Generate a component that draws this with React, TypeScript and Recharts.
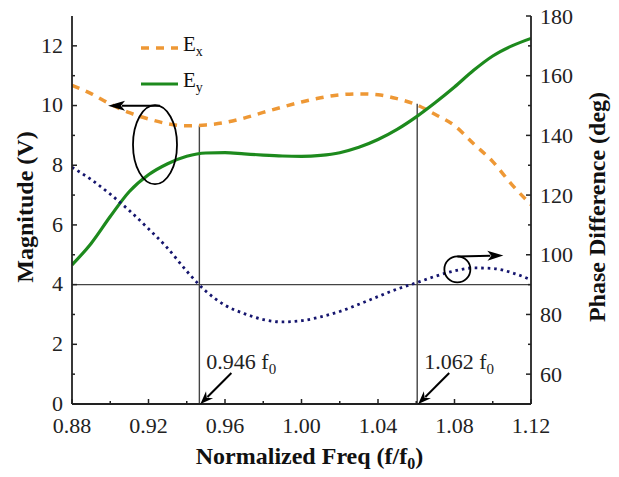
import React from 'react';
import { LineChart, Line, XAxis, YAxis, ReferenceLine, ReferenceDot, Legend } from 'recharts';

const FONT = '"Liberation Serif", "Times New Roman", serif';
const INK = '#222';
const ORANGE = '#ee9835';
const GREEN = '#1d8a1d';
const NAVY = '#15156e';

// normalized frequency f/f0
const freq = [0.88, 0.89, 0.9, 0.91, 0.92, 0.93, 0.94, 0.95, 0.96, 0.97, 0.98, 0.99, 1.0, 1.01, 1.02, 1.03, 1.04, 1.05, 1.06, 1.07, 1.08, 1.09, 1.1, 1.11, 1.12];
// magnitudes (V)
const exMag = [10.68, 10.4, 10.05, 9.76, 9.55, 9.39, 9.32, 9.35, 9.43, 9.58, 9.77, 9.95, 10.12, 10.26, 10.36, 10.39, 10.36, 10.23, 10.03, 9.7, 9.33, 8.72, 8.12, 7.35, 6.68];
const eyMag = [4.66, 5.38, 6.28, 7.12, 7.68, 8.05, 8.3, 8.41, 8.42, 8.38, 8.34, 8.31, 8.3, 8.33, 8.42, 8.6, 8.86, 9.2, 9.62, 10.1, 10.62, 11.18, 11.66, 12.0, 12.25];
// phase difference (deg)
const phaseDeg = [129.3, 125.2, 120.3, 114.8, 108.7, 102.2, 94.5, 87.8, 83.1, 80.3, 78.3, 77.5, 77.9, 79.2, 81.0, 83.4, 86.0, 88.5, 90.6, 92.8, 94.6, 95.6, 95.4, 94.0, 91.6];

const freqTicks = [0.88, 0.9, 0.92, 0.94, 0.96, 0.98, 1.0, 1.02, 1.04, 1.06, 1.08, 1.1, 1.12];
const freqLabelTicks = [0.88, 0.92, 0.96, 1.0, 1.04, 1.08, 1.12];
const magTicks = [0, 1, 2, 3, 4, 5, 6, 7, 8, 9, 10, 11, 12];
const magLabelTicks = [0, 2, 4, 6, 8, 10, 12];
const phaseTicks = [60, 70, 80, 90, 100, 110, 120, 130, 140, 150, 160, 170, 180];
const phaseLabelTicks = [60, 80, 100, 120, 140, 160, 180];

// marked frequencies, their labels and where the guide stops (on Ex)
const markFreqs = [0.9466, 1.0605];
const markLabels = ['0.946', '1.062'];
const markTops = [9.33, 10.06];

const data = freq.map((f, i) => ({ f, ex: exMag[i], ey: eyMag[i], phase: phaseDeg[i] }));

const seriesStyle: Record<string, { dash?: string; width: number }> = {
  ex: { dash: '8 7', width: 3.5 },
  ey: { width: 3.2 },
};

function makeTick(side: 'left' | 'right' | 'bottom' | 'top', labelled: number[]) {
  return (props: any) => {
    const { x, y, payload } = props;
    const v = payload.value;
    const major = labelled.some((t) => Math.abs(t - v) < 1e-9);
    const len = major ? 5 : 3;
    const txt = { fontFamily: FONT, fontSize: 22, fill: INK };
    if (side === 'left') {
      return (
        <g>
          <line x1={x} y1={y} x2={x + len} y2={y} stroke={INK} strokeWidth={1.5} />
          {major && <text x={x - 9} y={y - 1} dy="0.35em" textAnchor="end" {...txt}>{v}</text>}
        </g>
      );
    }
    if (side === 'right') {
      return (
        <g>
          <line x1={x} y1={y} x2={x - len} y2={y} stroke={INK} strokeWidth={1.5} />
          {major && <text x={x + 9} y={y} dy="0.35em" textAnchor="start" {...txt}>{v}</text>}
        </g>
      );
    }
    if (side === 'bottom') {
      return (
        <g>
          <line x1={x} y1={y} x2={x} y2={y - len} stroke={INK} strokeWidth={1.5} />
          {major && <text x={x} y={y + 21} dy="0.35em" textAnchor="middle" {...txt}>{v.toFixed(2)}</text>}
        </g>
      );
    }
    return <line x1={x} y1={y} x2={x} y2={y + len} stroke={INK} strokeWidth={1.5} />;
  };
}

function Arrow({ x1, y1, x2, y2, head, half }: { x1: number; y1: number; x2: number; y2: number; head: number; half: number }) {
  const a = Math.atan2(y2 - y1, x2 - x1);
  const bx = x2 - head * Math.cos(a);
  const by = y2 - head * Math.sin(a);
  const px = -Math.sin(a) * half;
  const py = Math.cos(a) * half;
  return (
    <g>
      <line x1={x1} y1={y1} x2={bx + Math.cos(a) * 3} y2={by + Math.sin(a) * 3} stroke="#000" strokeWidth={2} />
      <polygon points={`${x2},${y2} ${bx + px},${by + py} ${bx + Math.cos(a) * 4},${by + Math.sin(a) * 4} ${bx - px},${by - py}`} fill="#000" />
    </g>
  );
}

function LegendBox(props: any) {
  const items = (props.payload || []).filter((e: any) => e.type !== 'none' && seriesStyle[e.dataKey]);
  return (
    <div style={{ fontFamily: FONT, fontSize: 21, color: '#111' }}>
      {items.map((e: any) => {
        const st = seriesStyle[e.dataKey];
        return (
          <div key={e.dataKey} style={{ display: 'flex', alignItems: 'center', height: 36 }}>
            <svg width={42} height={8} style={{ display: 'block' }}>
              <line x1={0} y1={4} x2={37} y2={4} stroke={e.color} strokeWidth={st.width} strokeDasharray={st.dash} />
            </svg>
            <span style={{ lineHeight: '20px' }}>
              {String(e.value)[0]}
              <sub style={{ fontSize: 14, verticalAlign: -5 }}>{String(e.value).slice(1)}</sub>
            </span>
          </div>
        );
      })}
    </div>
  );
}

const titleStyle = { fontFamily: FONT, fontSize: 24, fontWeight: 700, fill: '#111' };

export default function App() {
  return (
    <div style={{ position: 'absolute', left: 0, top: 0, width: 619, height: 477, background: '#fff' }}>
      <LineChart width={619} height={477} data={data} margin={{ top: 16, right: 0, bottom: 0, left: 0 }}>
        <XAxis
          xAxisId="bottom"
          dataKey="f"
          type="number"
          domain={[0.88, 1.12]}
          allowDataOverflow
          ticks={freqTicks}
          interval={0}
          tickSize={0}
          tickMargin={0}
          tickLine={false}
          tick={makeTick('bottom', freqLabelTicks)}
          height={73}
          axisLine={{ stroke: INK, strokeWidth: 1.8 }}
          label={(p: any) => {
            const vb = p.viewBox || { x: 72, y: 404, width: 459 };
            const cx = vb.x + vb.width / 2 + 8;
            return (
              <text x={cx} y={vb.y + 60} textAnchor="middle" {...titleStyle}>
                Normalized Freq (f/f<tspan fontSize={16} dy={5}>0</tspan><tspan dy={-5}>)</tspan>
              </text>
            );
          }}
        />
        <XAxis
          xAxisId="top"
          orientation="top"
          dataKey="f"
          type="number"
          domain={[0.88, 1.12]}
          allowDataOverflow
          ticks={freqTicks}
          interval={0}
          tickSize={0}
          tickMargin={0}
          tickLine={false}
          tick={makeTick('top', freqLabelTicks)}
          height={0}
          axisLine={{ stroke: INK, strokeWidth: 1.8 }}
        />
        <YAxis
          yAxisId="left"
          domain={[0, 13]}
          allowDataOverflow
          ticks={magTicks}
          interval={0}
          tickSize={0}
          tickMargin={0}
          tickLine={false}
          tick={makeTick('left', magLabelTicks)}
          width={72}
          axisLine={{ stroke: INK, strokeWidth: 1.8 }}
          label={(p: any) => {
            const vb = p.viewBox || { x: 0, y: 16, height: 388 };
            const cx = vb.x + 25;
            const cy = vb.y + vb.height / 2 - 3;
            return (
              <text x={cx} y={cy} dy="0.35em" textAnchor="middle" transform={`rotate(-90 ${cx} ${cy})`} {...titleStyle}>
                Magnitude (V)
              </text>
            );
          }}
        />
        <YAxis
          yAxisId="right"
          orientation="right"
          domain={[50, 180]}
          allowDataOverflow
          ticks={phaseTicks}
          interval={0}
          tickSize={0}
          tickMargin={0}
          tickLine={false}
          tick={makeTick('right', phaseLabelTicks)}
          width={88}
          axisLine={{ stroke: INK, strokeWidth: 1.8 }}
          label={(p: any) => {
            const vb = p.viewBox || { x: 531, y: 16, height: 388 };
            const cx = vb.x + 66;
            const cy = vb.y + vb.height / 2 - 3;
            return (
              <text x={cx} y={cy} dy="0.35em" textAnchor="middle" transform={`rotate(-90 ${cx} ${cy})`} {...titleStyle}>
                Phase Difference (deg)
              </text>
            );
          }}
        />
        <Legend
          layout="vertical"
          align="center"
          verticalAlign="middle"
          content={<LegendBox />}
          wrapperStyle={{ left: 141, top: 30, width: 'auto', height: 'auto' }}
        />

        <ReferenceLine xAxisId="bottom" yAxisId="right" y={90} stroke="#444" strokeWidth={1.4} />
        {markFreqs.map((f, i) => (
          <ReferenceLine
            key={`guide-${i}`}
            xAxisId="bottom"
            yAxisId="left"
            segment={[{ x: f, y: 0 }, { x: f, y: markTops[i] }]}
            stroke="#444"
            strokeWidth={1.4}
          />
        ))}

        <Line xAxisId="bottom" yAxisId="left" type="monotone" dataKey="ex" name="Ex" stroke={ORANGE} strokeWidth={3.5} strokeDasharray="8 7" dot={false} isAnimationActive={false} />
        <Line xAxisId="bottom" yAxisId="left" type="monotone" dataKey="ey" name="Ey" stroke={GREEN} strokeWidth={3.2} dot={false} isAnimationActive={false} />
        <Line xAxisId="bottom" yAxisId="right" type="monotone" dataKey="phase" name="Phase" legendType="none" stroke={NAVY} strokeWidth={2.8} strokeDasharray="2.6 3.9" dot={false} isAnimationActive={false} />

        {/* ellipse + arrow: Ex/Ey read on the left axis */}
        <ReferenceDot
          xAxisId="bottom"
          yAxisId="left"
          x={0.9234}
          y={8.69}
          r={0}
          shape={(p: any) => (
            <g>
              <ellipse cx={p.cx} cy={p.cy} rx={22} ry={39.5} fill="none" stroke="#000" strokeWidth={1.8} />
              <Arrow x1={p.cx + 5} y1={p.cy - 39} x2={p.cx - 47} y2={p.cy - 39} head={17} half={5} />
            </g>
          )}
        />
        {/* circle + arrow: phase read on the right axis */}
        <ReferenceDot
          xAxisId="bottom"
          yAxisId="right"
          x={1.0815}
          y={95.1}
          r={0}
          shape={(p: any) => (
            <g>
              <circle cx={p.cx} cy={p.cy} r={13} fill="none" stroke="#000" strokeWidth={1.8} />
              <Arrow x1={p.cx} y1={p.cy - 13} x2={p.cx + 46} y2={p.cy - 14} head={16} half={5} />
            </g>
          )}
        />
        {markFreqs.map((f, i) => (
          <ReferenceDot
            key={`mark-${i}`}
            xAxisId="bottom"
            yAxisId="left"
            x={f}
            y={0}
            r={0}
            shape={(p: any) => (
              <g>
                <Arrow x1={p.cx + 32} y1={p.cy - 31} x2={p.cx + 1} y2={p.cy} head={13} half={5} />
                <text x={p.cx + 7} y={p.cy - 35} fontFamily={FONT} fontSize={22} fill={INK}>
                  {markLabels[i]} f<tspan fontSize={15} dy={5}>0</tspan>
                </text>
              </g>
            )}
          />
        ))}
      </LineChart>
    </div>
  );
}
